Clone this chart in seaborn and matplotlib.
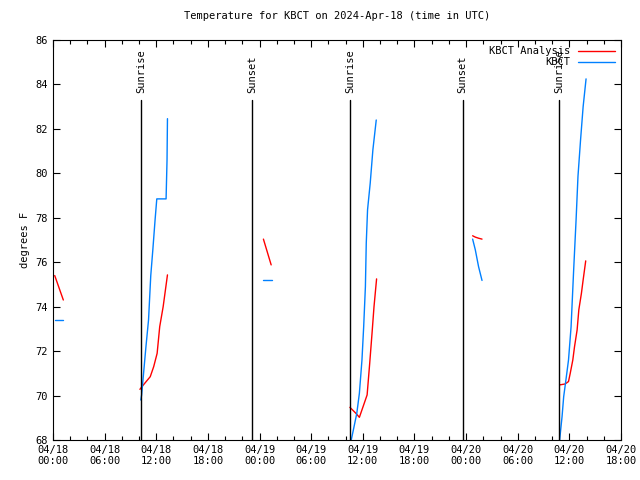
import pandas as pd
import numpy as np
import matplotlib
matplotlib.use('Agg')
import matplotlib.pyplot as plt
from matplotlib.lines import Line2D
import seaborn as sns

# hours since 2024-04-18 00:00 UTC
analysis_hours = [
    [0.2, 1.2],
    [10.1, 10.4, 11.3, 11.7, 12.1, 12.4, 12.8, 13.3],
    [24.45, 25.35],
    [34.5, 35.2, 35.6, 36.1, 36.5, 36.8, 37.07, 37.3, 37.6],
    [48.76, 49.07, 49.45, 49.85],
    [58.87, 59.5, 59.9, 60.1, 60.4, 60.6, 60.9, 61.1, 61.4, 61.6, 61.9],
]
analysis_temp = [
    [75.4, 74.3],
    [70.28, 70.43, 70.85, 71.3, 71.9, 73.1, 74.0, 75.43],
    [77.04, 75.88],
    [69.47, 69.2, 69.02, 69.58, 70.03, 71.45, 72.8, 74.0, 75.25],
    [77.19, 77.13, 77.08, 77.04],
    [70.48, 70.52, 70.63, 71.0, 71.6, 72.2, 72.95, 73.86, 74.6, 75.2, 76.06],
]
obs_hours = [
    [0.2, 1.2],
    [10.2, 10.3, 10.5, 10.8, 11.1, 11.36, 11.6, 11.86, 12.06, 13.14, 13.25, 13.3],
    [24.4, 25.4],
    [34.6, 34.9, 35.3, 35.6, 35.9, 36.1, 36.3, 36.4, 36.55, 36.86, 37.17, 37.56],
    [48.76, 49.07, 49.45, 49.85],
    [58.87, 59.15, 59.34, 59.65, 59.9, 60.2, 60.5, 60.78, 61.0, 61.3, 61.6, 61.94],
]
obs_temp = [
    [73.4, 73.4],
    [69.8, 70.03, 70.9, 72.2, 73.4, 75.4, 76.56, 77.9, 78.85, 78.85, 80.6, 82.46],
    [75.2, 75.2],
    [67.9, 68.45, 69.2, 70.1, 71.6, 73.1, 74.9, 76.86, 78.36, 79.56, 81.06, 82.4],
    [77.04, 76.56, 75.8, 75.18],
    [68.0, 69.05, 69.95, 70.85, 71.6, 73.1, 75.66, 77.9, 79.86, 81.5, 83.0, 84.25],
]
event_names = ['Sunrise', 'Sunset', 'Sunrise', 'Sunset', 'Sunrise']
event_hours = [10.2, 23.1, 34.5, 47.6, 58.8]
tick_hours = list(range(0, 67, 6))
tick_labels = ['04/18\n00:00', '04/18\n06:00', '04/18\n12:00', '04/18\n18:00',
               '04/19\n00:00', '04/19\n06:00', '04/19\n12:00', '04/19\n18:00',
               '04/20\n00:00', '04/20\n06:00', '04/20\n12:00', '04/20\n18:00']

red = '#ff0000'
blue = '#0080ff'


def to_frame(hours, temps):
    rows = []
    for i, (h, t) in enumerate(zip(hours, temps)):
        for a, b in zip(h, t):
            rows.append({'hour': a, 'temp': b, 'seg': i})
    return pd.DataFrame(rows)


df_a = to_frame(analysis_hours, analysis_temp)
df_o = to_frame(obs_hours, obs_temp)

sns.set_theme(style='ticks')
plt.rcParams['font.family'] = ['DejaVu Sans Mono']
plt.rcParams['font.size'] = 7
plt.rcParams['text.color'] = 'black'
plt.rcParams['axes.labelcolor'] = 'black'
plt.rcParams['xtick.color'] = 'black'
plt.rcParams['ytick.color'] = 'black'

fig = plt.figure(figsize=(6.4, 4.8), dpi=100)
ax = fig.add_axes([53 / 640, 1 - 440 / 480, (621 - 53) / 640, 400 / 480])

sns.lineplot(data=df_a, x='hour', y='temp', units='seg', estimator=None,
             color=red, linewidth=1, ax=ax, legend=False)
sns.lineplot(data=df_o, x='hour', y='temp', units='seg', estimator=None,
             color=blue, linewidth=1, ax=ax, legend=False)

# sunrise / sunset markers
for name, h in zip(event_names, event_hours):
    ax.plot([h, h], [68, 83.3], color='black', linewidth=1)
    ax.text(h, 83.6, name, rotation=90, ha='center', va='bottom', fontsize=7.5)

ax.set_xlim(0, 66)
ax.set_ylim(68, 86)
ax.set_xticks(tick_hours)
ax.set_xticklabels(tick_labels)
ax.set_xticks(range(0, 67, 2), minor=True)
ax.set_yticks(range(68, 87, 2))
ax.tick_params(axis='both', which='both', direction='in', top=True, right=True,
               labelsize=7.5, width=0.8)
ax.tick_params(which='major', length=5)
ax.tick_params(which='minor', length=3)
for s in ax.spines.values():
    s.set_color('black')
    s.set_linewidth(0.8)
ax.set_xlabel('')
ax.set_ylabel('degrees F', fontsize=7.5)
ax.set_title('Temperature for KBCT on 2024-Apr-18 (time in UTC)', fontsize=7.5, pad=15)

handles = [Line2D([], [], color=red, linewidth=1), Line2D([], [], color=blue, linewidth=1)]
ax.legend(handles, ['KBCT Analysis', 'KBCT'], loc='upper right', frameon=False,
          markerfirst=False, fontsize=7.5, handlelength=3.5, borderaxespad=0.2,
          labelspacing=0.1)

fig.savefig('out.png', dpi=100)
